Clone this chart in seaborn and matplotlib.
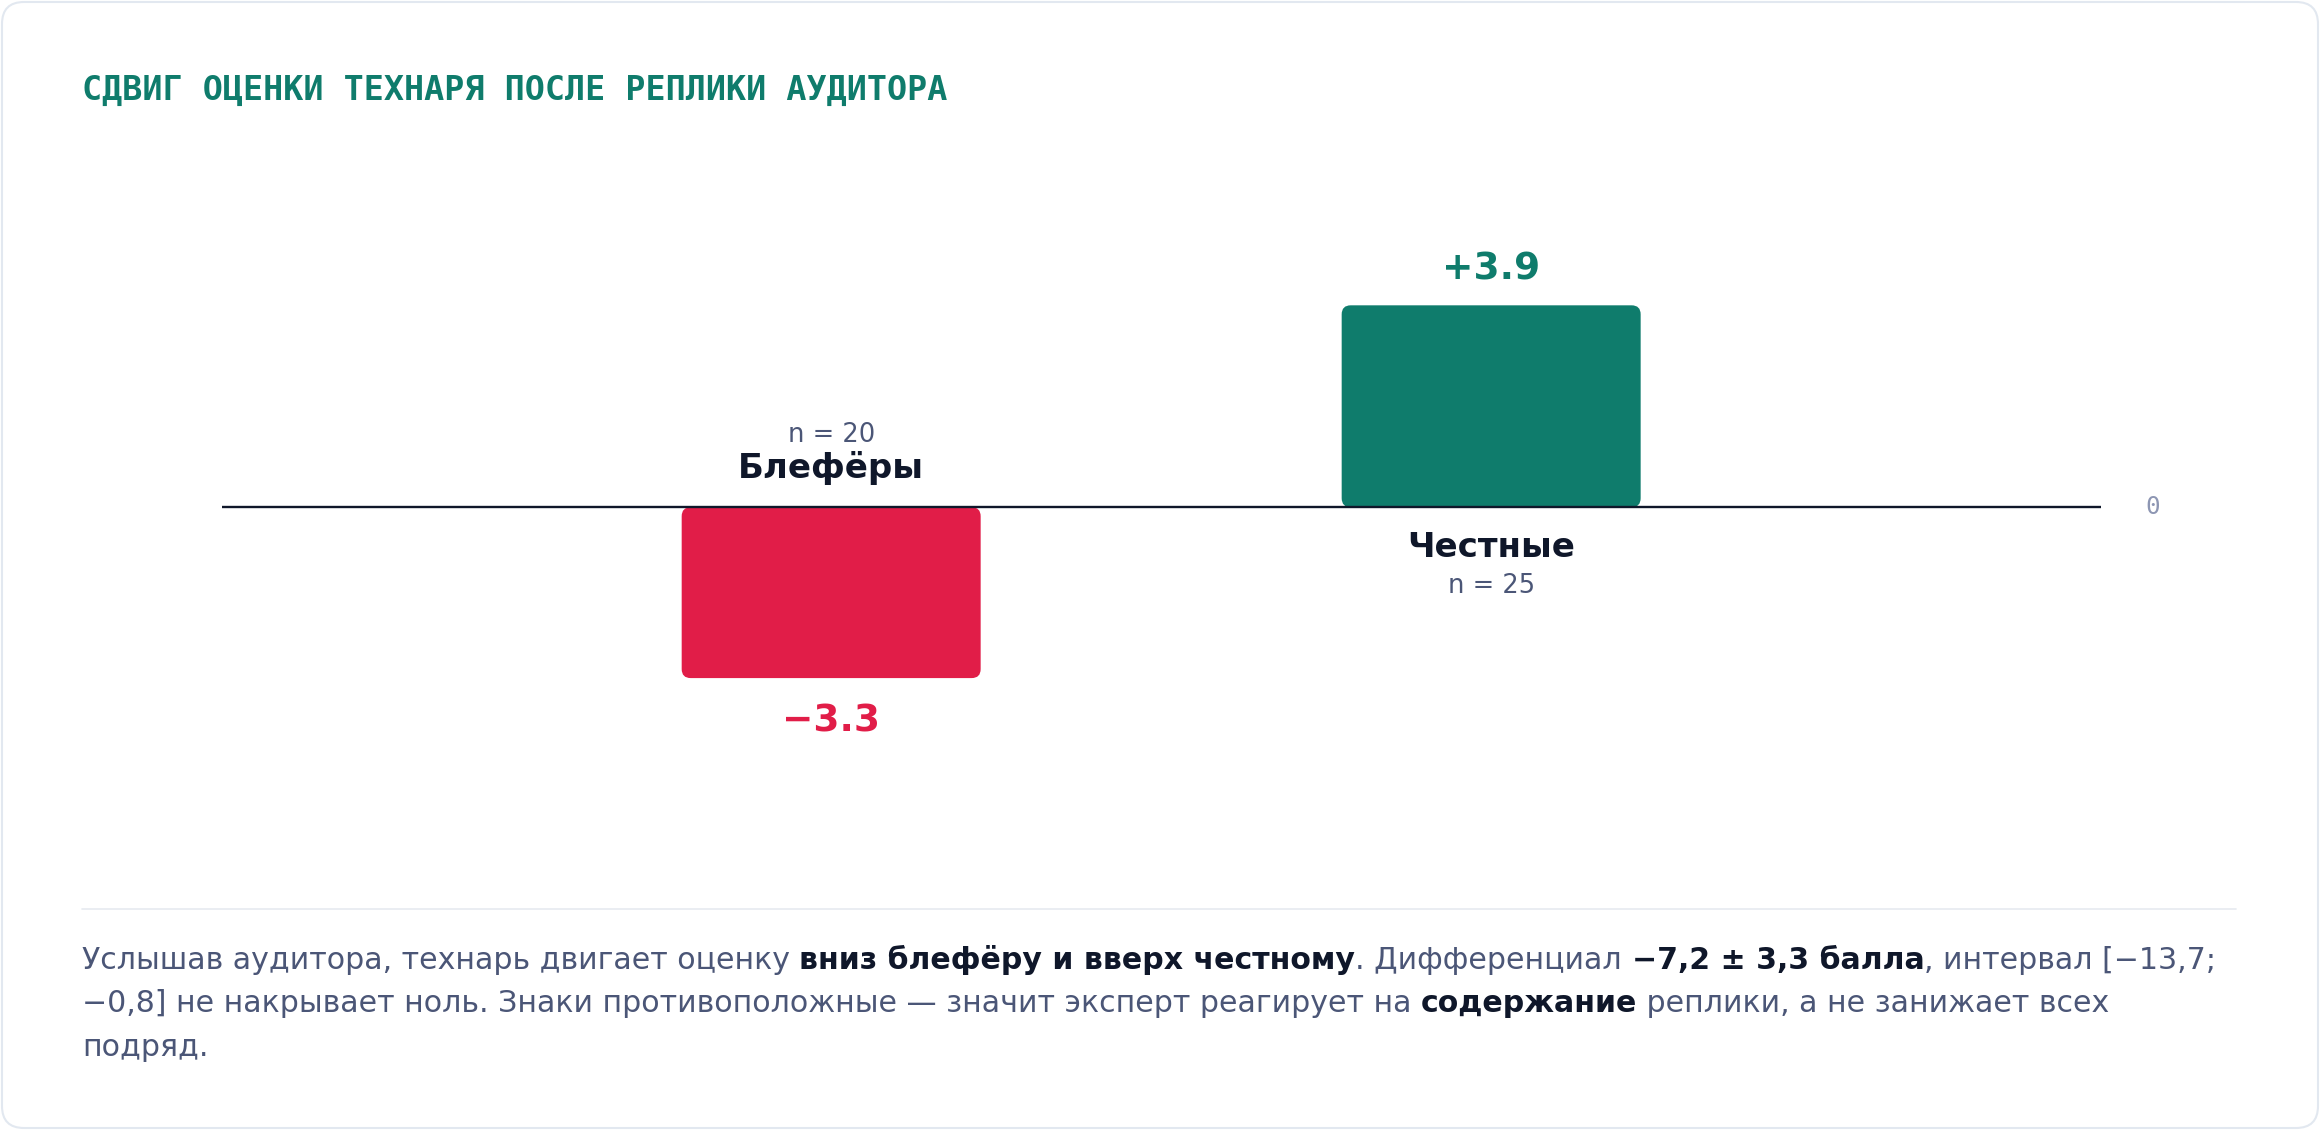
import matplotlib
matplotlib.use('Agg')
import matplotlib.pyplot as plt
from matplotlib.patches import FancyBboxPatch
from matplotlib.lines import Line2D
from matplotlib.font_manager import FontProperties
import pandas as pd
import seaborn as sns

# Data
groups = ['Блефёры', 'Честные']
shifts = [-3.3, 3.9]
sizes = [20, 25]
value_labels = ['−3.3', '+3.9']
bar_colours = ['#e11d48', '#0f7c6c']

title = 'СДВИГ ОЦЕНКИ ТЕХНАРЯ ПОСЛЕ РЕПЛИКИ АУДИТОРА'
note_lines = [
    [('Услышав аудитора, технарь двигает оценку ', False),
     ('вниз блефёру и вверх честному', True),
     ('. Дифференциал ', False),
     ('−7,2 ± 3,3 балла', True),
     (', интервал [−13,7;', False)],
    [('−0,8] не накрывает ноль. Знаки противоположные — значит эксперт реагирует на ', False),
     ('содержание', True),
     (' реплики, а не занижает всех', False)],
    [('подряд.', False)],
]

# Style
sns.set_theme(style='white')
plt.rcParams['font.family'] = ['DejaVu Sans']

green = '#0f7c6c'
ink = '#0f172a'
slate = '#4b5677'
W, H = 2320, 1130

fig = plt.figure(figsize=(W / 100, H / 100), dpi=100, facecolor='white')

# Card outline
card = FancyBboxPatch(
    (2 / W, 2 / H), (W - 4) / W, (H - 4) / H,
    boxstyle=f'round,pad=0,rounding_size={22 / W}', mutation_aspect=W / H,
    transform=fig.transFigure, fc='white', ec='#e2e8f0', lw=1.5, zorder=0
)
fig.add_artist(card)

# Axes placed so the zero line runs from x=222 to x=2101
ax = fig.add_axes([222 / W, 1 - 880 / H, (2101 - 222) / W, 730 / H])
ax.set_facecolor('none')

df = pd.DataFrame({'group': groups, 'shift': shifts})
sns.barplot(
    data=df, x='group', y='shift', hue='group', palette=bar_colours,
    width=0.453, saturation=1, legend=False, ax=ax
)
xlim = (-0.923, 1.924)
ylim = (-7.2, 6.9)
ax.set_xlim(*xlim)
ax.set_ylim(*ylim)
ax.axis('off')

# Swap the plain bars for rounded ones
px_x = 1879 / (xlim[1] - xlim[0])
px_y = 730 / (ylim[1] - ylim[0])
rad = 9 / px_x
for p in list(ax.patches):
    x, y = p.get_x(), p.get_y()
    w, h = p.get_width(), p.get_height()
    fc = p.get_facecolor()
    p.remove()
    if h < 0:
        y, h = y + h, -h
    ax.add_patch(FancyBboxPatch(
        (x, y), w, h, boxstyle=f'round,pad=0,rounding_size={rad}',
        mutation_aspect=px_x / px_y, fc=fc, ec='none', zorder=2
    ))

ax.axhline(0, color=ink, lw=1.7, zorder=3)

# Labels around the bars
for i, (g, v, n, lab, c) in enumerate(zip(groups, shifts, sizes, value_labels, bar_colours)):
    val_off = 26 if v > 0 else -31
    ax.annotate(lab, xy=(i, v), xytext=(0, val_off), textcoords='offset points',
                ha='center', va='center', size=27, weight='bold', color=c)
    name_off = -29 if v > 0 else 28
    n_off = -57 if v > 0 else 52
    ax.annotate(g, xy=(i, 0), xytext=(0, name_off), textcoords='offset points',
                ha='center', va='center', size=24.5, weight='bold', color=ink)
    ax.annotate(f'n = {n}', xy=(i, 0), xytext=(0, n_off), textcoords='offset points',
                ha='center', va='center', size=18.5, color=slate)

ax.annotate('0', xy=(1, 0), xycoords=('axes fraction', 'data'),
            xytext=(37, 0), textcoords='offset points', ha='center', va='center',
            family='DejaVu Sans Mono', size=17.5, color='#8d96b3')

# Title
fig.text(82 / W, 1 - 90 / H, title, family='DejaVu Sans Mono', weight='bold',
         size=24, color=green, va='center', ha='left')

# Separator
fig.add_artist(Line2D([82 / W, 2236 / W], [1 - 909 / H] * 2,
                      color='#e6eaf0', lw=1.2, transform=fig.transFigure))

# Footer note with bold runs
renderer = fig.canvas.get_renderer()
note_size = 21.6


def advance(s, prop):
    w1 = renderer.get_text_width_height_descent('.' + s + '.', prop, ismath=False)[0]
    w0 = renderer.get_text_width_height_descent('..', prop, ismath=False)[0]
    return w1 - w0


for k, line in enumerate(note_lines):
    x = 82
    y = 969 + k * 43.5
    for text, bold in line:
        prop = FontProperties(family='DejaVu Sans', size=note_size,
                              weight='bold' if bold else 'normal')
        fig.text(x / W, 1 - y / H, text, fontproperties=prop,
                 color=ink if bold else slate, ha='left', va='baseline')
        x += advance(text, prop)

fig.savefig('out.png', dpi=100, facecolor='white')
